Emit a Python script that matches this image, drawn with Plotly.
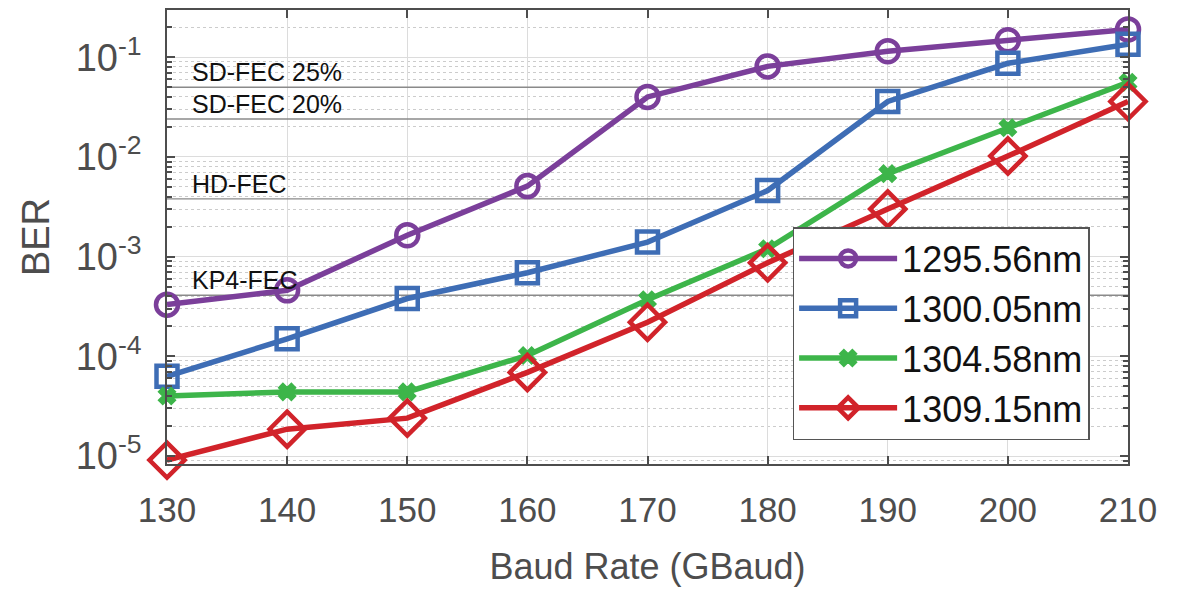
import math
import plotly.graph_objects as go

baud = [130, 140, 150, 160, 170, 180, 190, 200, 210]

ber_129556 = [3.3e-4, 4.6e-4, 1.64e-3, 5.1e-3, 4.0e-2, 8.1e-2, 1.15e-1, 1.48e-1, 1.9e-1]
ber_130005 = [6.3e-5, 1.5e-4, 3.8e-4, 6.9e-4, 1.4e-3, 4.6e-3, 3.6e-2, 8.7e-2, 1.35e-1]
ber_130458 = [4.0e-5, 4.4e-5, 4.4e-5, 1.02e-4, 3.7e-4, 1.2e-3, 6.8e-3, 1.96e-2, 5.6e-2]
ber_130915 = [9.1e-6, 1.86e-5, 2.4e-5, 6.9e-5, 2.2e-4, 8.7e-4, 3.0e-3, 1.02e-2, 3.6e-2]

series_names = ["1295.56nm", "1300.05nm", "1304.58nm", "1309.15nm"]
series_values = [ber_129556, ber_130005, ber_130458, ber_130915]
colors = ["#7B3F9A", "#3E6DB5", "#3DB54A", "#D1232A"]
symbols = ["circle-open", "square-open", "x", "diamond-open"]
msizes = [22, 21, 15, 27]

thr_names = ["SD-FEC 25%", "SD-FEC 20%", "HD-FEC", "KP4-FEC"]
thr_values = [5.0e-2, 2.4e-2, 3.8e-3, 4.1e-4]

ytick_vals = [1e-5, 1e-4, 1e-3, 1e-2, 1e-1]
ytick_text = ["10<sup>-5</sup>", "10<sup>-4</sup>", "10<sup>-3</sup>", "10<sup>-2</sup>", "10<sup>-1</sup>"]
xtick_vals = baud

FONT = "Liberation Sans"
AX = "#4d4d4d"

fig = go.Figure()

# threshold lines
for name, v in zip(thr_names, thr_values):
    fig.add_trace(go.Scatter(x=[130, 210], y=[v, v], mode="lines",
                             line=dict(color="#8a8a8a", width=1.4),
                             showlegend=False, hoverinfo="skip"))
    fig.add_annotation(x=0.024, xref="paper", y=math.log10(v), yref="y", yanchor="bottom",
                       xanchor="left", text=name, showarrow=False, yshift=-1,
                       font=dict(family=FONT, size=25, color="#111111"))

for i, (name, vals, c, s, ms) in enumerate(zip(series_names, series_values, colors, symbols, msizes)):
    fig.add_trace(go.Scatter(
        x=baud, y=vals, name=name, mode="lines+markers", cliponaxis=False,
        line=dict(color=c, width=5.5),
        marker=dict(symbol=s, size=ms, color=c,
                    line=dict(color=c, width=4.5 if s != "x" else 1.5)),
    ))

fig.update_layout(
    width=1185, height=589,
    margin=dict(l=159, r=65, t=0, b=133),
    paper_bgcolor="white", plot_bgcolor="white",
    font=dict(family=FONT, color=AX),
    legend=dict(x=0.651, y=0.522, xanchor="left", yanchor="top",
                bgcolor="white", bordercolor="#555555", borderwidth=1.5,
                font=dict(family=FONT, size=36, color="#111111"),
                itemwidth=98, tracegroupgap=0),
)

fig.update_xaxes(
    range=[130, 210], tickvals=xtick_vals,
    showgrid=True, gridcolor="#dcdcdc", gridwidth=1,
    showline=True, linecolor=AX, linewidth=1.5, mirror="allticks",
    ticks="inside", ticklen=8, tickcolor=AX, tickwidth=1.5,
    tickfont=dict(family=FONT, size=35, color=AX), ticklabelstandoff=14,
    zeroline=False,
    title=dict(text="Baud Rate (GBaud)", font=dict(family=FONT, size=36, color=AX), standoff=26),
)

fig.update_yaxes(
    type="log", range=[-5.08, -0.526],
    tickvals=ytick_vals, ticktext=ytick_text,
    showgrid=True, gridcolor="#dcdcdc", gridwidth=1,
    showline=True, linecolor=AX, linewidth=1.5, mirror="allticks",
    ticks="inside", ticklen=8, tickcolor=AX, tickwidth=1.5,
    tickfont=dict(family=FONT, size=38, color=AX), ticklabelstandoff=16,
    zeroline=False,
    minor=dict(dtick="D1", showgrid=True, griddash="dot", gridcolor="#cccccc",
               gridwidth=1, ticks="inside", ticklen=5, tickcolor=AX),
    title=dict(text="BER", font=dict(family=FONT, size=38, color=AX), standoff=14),
)

fig.write_html("out.html")
